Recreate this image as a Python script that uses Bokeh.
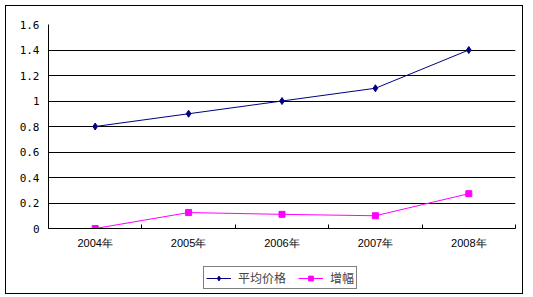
from bokeh.plotting import figure
from bokeh.layouts import column
from bokeh.models import ColumnDataSource, Range1d, FixedTicker, Legend, LegendItem
from bokeh.embed import file_html
from bokeh.resources import INLINE

years = ["2004年", "2005年", "2006年", "2007年", "2008年"]
avg_price = [0.8, 0.9, 1.0, 1.1, 1.4]
growth = [0.0, 0.125, 0.111, 0.1, 0.273]
y_ticks = [0, 0.2, 0.4, 0.6, 0.8, 1.0, 1.2, 1.4, 1.6]
y_tick_labels = ["0", "0.2", "0.4", "0.6", "0.8", "1", "1.2", "1.4", "1.6"]
series_names = ["平均价格", "增幅"]
price_color = "#000080"
growth_color = "#FF00FF"

n = len(years)
xs = [i + 0.5 for i in range(n)]
src = ColumnDataSource(dict(x=xs, price=avg_price, growth=growth))

p = figure(width=516, height=245, output_backend="svg", toolbar_location=None,
           x_range=Range1d(0, n), y_range=Range1d(0, 1.6),
           min_border_left=42, min_border_right=7, min_border_top=18, min_border_bottom=22)
p.outline_line_color = None
p.background_fill_color = "white"
p.border_fill_color = "white"

# grid
p.xgrid.grid_line_color = None
p.ygrid.grid_line_color = "black"
p.ygrid.grid_line_width = 1
p.ygrid.ticker = FixedTicker(ticks=y_ticks)

# y axis
p.yaxis.ticker = FixedTicker(ticks=y_ticks)
p.yaxis.major_label_overrides = {t: l for t, l in zip(y_ticks, y_tick_labels)}
p.yaxis.major_tick_line_color = None
p.yaxis.major_tick_out = 0
p.yaxis.major_tick_in = 0
p.yaxis.minor_tick_line_color = None
p.yaxis.axis_line_color = "black"
p.yaxis.major_label_text_font = "DejaVu Sans Mono"
p.yaxis.major_label_text_font_size = "11px"
p.yaxis.major_label_text_color = "black"
p.yaxis.major_label_standoff = 9

# x axis: labels at category centres, ticks at boundaries
p.xaxis.ticker = FixedTicker(ticks=xs, minor_ticks=list(range(n + 1)))
p.xaxis.major_label_overrides = {x: y for x, y in zip(xs, years)}
p.xaxis.major_tick_line_color = None
p.xaxis.major_tick_out = 0
p.xaxis.major_tick_in = 0
p.xaxis.minor_tick_line_color = "black"
p.xaxis.minor_tick_in = 4
p.xaxis.minor_tick_out = 0
p.xaxis.axis_line_color = "black"
p.xaxis.major_label_text_font = "Liberation Sans"
p.xaxis.major_label_text_font_size = "11px"
p.xaxis.major_label_text_color = "black"
p.xaxis.major_label_standoff = 8

p.line("x", "price", source=src, line_color=price_color, line_width=1)
p.scatter("x", "price", source=src, marker="diamond", size=7,
          fill_color=price_color, line_color=price_color)
p.line("x", "growth", source=src, line_color=growth_color, line_width=1)
p.scatter("x", "growth", source=src, marker="square", size=6,
          fill_color=growth_color, line_color=growth_color)

# legend strip below the chart (its key renderers sit outside its visible range)
q = figure(width=516, height=42, output_backend="svg", toolbar_location=None,
           x_range=Range1d(0, n), y_range=Range1d(10, 11),
           min_border=0, min_border_left=0, min_border_right=0,
           min_border_top=0, min_border_bottom=0)
q.axis.visible = False
q.grid.visible = False
q.outline_line_color = None
q.background_fill_color = "white"
q.border_fill_color = "white"
k1 = q.line("x", "price", source=src, line_color=price_color, line_width=1)
k1m = q.scatter("x", "price", source=src, marker="diamond", size=6,
                fill_color=price_color, line_color=price_color)
k2 = q.line("x", "growth", source=src, line_color=growth_color, line_width=1)
k2m = q.scatter("x", "growth", source=src, marker="square", size=6,
                fill_color=growth_color, line_color=growth_color)

legend = Legend(items=[LegendItem(label=series_names[0], renderers=[k1, k1m]),
                       LegendItem(label=series_names[1], renderers=[k2, k2m])],
                location=(155, 4), orientation="horizontal")
legend.border_line_color = "black"
legend.border_line_width = 1
legend.background_fill_alpha = 1
legend.padding = 2
legend.margin = 0
legend.spacing = 12
legend.label_standoff = 7
legend.glyph_width = 25
legend.glyph_height = 12
legend.label_height = 12
legend.label_text_font = "Noto Sans CJK SC"
legend.label_text_font_size = "12px"
q.add_layout(legend, "center")

layout = column(p, q, spacing=0, margin=(5, 0, 0, 5))
layout.styles = {"border": "1px solid black"}

open("out.html", "w").write(file_html(layout, INLINE))
